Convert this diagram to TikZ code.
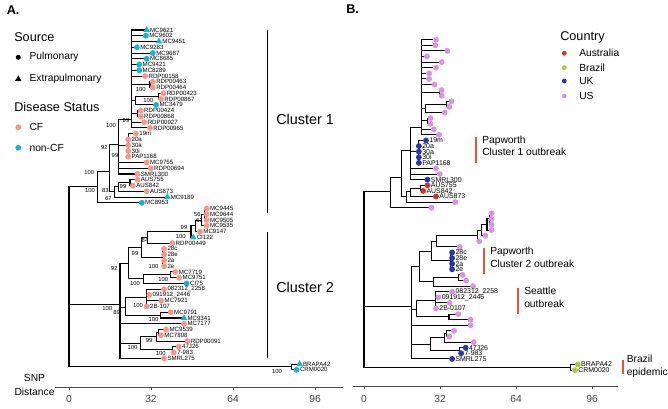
\documentclass[tikz,border=0pt]{standalone}
\usepackage{fontspec}
\setmainfont{Liberation Sans}
\usetikzlibrary{shapes.geometric,positioning}

\definecolor{cfpink}{HTML}{F8968A}
\definecolor{noncf}{HTML}{17B4CF}
\definecolor{ausred}{HTML}{D32F2F}
\definecolor{brzgreen}{HTML}{A8C93A}
\definecolor{ukblue}{HTML}{2C35A5}
\definecolor{usorchid}{HTML}{DC92E2}
\definecolor{outred}{HTML}{E5533F}

\tikzset{
  branch/.style={line width=0.8pt},
  tipdot/.style={circle, inner sep=0pt, minimum size=4.4pt},
  tiptri/.style={regular polygon, regular polygon sides=3, inner sep=0pt, minimum size=5.8pt},
  tiplab/.style={font=\fontsize{4.6}{5}\selectfont, inner sep=0pt, anchor=west, xshift=2.4pt},
  tiplabB/.style={font=\fontsize{5.2}{5.5}\selectfont, inner sep=0pt, anchor=west, xshift=2.4pt},
  bootlab/.style={font=\fontsize{4.4}{5}\selectfont, inner sep=0pt},
  paneltag/.style={font=\fontsize{9.5}{11}\selectfont\bfseries, inner sep=0pt, anchor=west},
  legtitle/.style={font=\fontsize{9.5}{11}\selectfont, inner sep=0pt, anchor=west},
  legitem/.style={font=\fontsize{7.7}{9}\selectfont, inner sep=0pt, anchor=west},
  clustlab/.style={font=\fontsize{10.8}{12}\selectfont, inner sep=0pt, anchor=west},
  outlab/.style={font=\fontsize{7.7}{9.4}\selectfont, inner sep=0pt, anchor=north west, align=left},
  ticklab/.style={font=\fontsize{7.7}{9}\selectfont, inner sep=0pt, text=black!75},
  axisline/.style={line width=0.6pt, draw=black!70},
  outbar/.style={line width=1.4pt, draw=outred}
}

% tree shared by both panels: x = SNP distance, y = tip row
\newcommand{\treecoords}{%
  \foreach \n/\s in {1/30.3,2/30.0,3/35.1,4/26.5,5/32.7,6/30.3,7/27.4,8/27.4,9/29.7,10/32.7,
    11/32.7,12/36.8,13/35.9,14/34.0,15/28.0,16/28.0,17/29.4,18/31.6,19/26.1,20/23.1,
    21/23.1,22/23.1,23/23.1,24/30.3,25/31.9,26/26.7,27/26.7,28/24.9,29/30.3,30/38.4,
    31/28.4,32/53.7,33/53.7,34/53.7,35/53.7,36/51.1,37/48.5,38/40.3,39/37.1,40/37.1,
    41/37.1,42/37.1,43/41.5,44/43.0,45/45.9,46/37.1,47/31.3,48/36.0,49/30.3,50/39.7,
    51/44.9,52/44.9,53/37.9,54/35.9,55/46.2,56/42.8,57/40.9,58/37.1,59/90.0,60/88.8}
    {\coordinate (l\n) at (\s,\n);}
  \foreach \nd/\s/\i in {R/0/28.1, c1/11.0/28.1, c1a/15.9/25.6, c1b/19.4/20.8, tp/24.4/16.6,
    n10/31.6/10.5, n12/25.8/13.25, n12a/34.9/12.5, n15/26.7/15.5, p1/23.1/21.0,
    nb/17.7/29.0, n83/19.4/28.1, naus/23.8/27.5,
    c2/19.9/48.6, n92/23.2/41.5, n99c/28.4/38.8, n84/30.5/37.0, n99d/47.6/36.0,
    n99e/49.5/35.0, n61/51.8/34.0, n56/52.8/33.0, n100e/36.5/40.5, n100c/29.2/44.2,
    n100d/39.7/43.5, n89/22.0/49.2, n100f/30.3/47.5, n100g/35.8/50.5, n100i/28.0/55.4,
    n99f/34.0/54.25, na/34.8/53.5, n100j/40.4/56.5, br/87.0/59.5}
    {\coordinate (\nd) at (\s,\i);}
}
\newcommand{\treeedges}{%
  \foreach \pa/\ch in {R/c1, R/c2, R/br, c1/c1a, c1/l31, c1a/c1b, c1a/nb,
    c1b/tp, c1b/p1, c1b/l24, c1b/l25, c1b/l26,
    tp/l1, tp/l2, tp/l3, tp/l4, tp/l5, tp/l6, tp/l7, tp/l8, tp/l9, tp/n10, tp/n12,
    tp/n15, tp/l17, tp/l18, n10/l10, n10/l11, n12/n12a, n12/l14, n12a/l12, n12a/l13,
    n15/l15, n15/l16, p1/l19, p1/l20, p1/l21, p1/l22, p1/l23,
    nb/n83, nb/l30, n83/naus, n83/l29, naus/l27, naus/l28,
    c2/n92, c2/n89, c2/l52, c2/n100i, c2/l58,
    n92/n99c, n92/n100c, n99c/n84, n99c/n100e, n84/n99d, n84/l38, n99d/n99e, n99d/l37,
    n99e/n61, n99e/l36, n61/n56, n61/l35, n56/l32, n56/l33, n56/l34,
    n100e/l39, n100e/l40, n100e/l41, n100e/l42, n100c/n100d, n100c/l45,
    n100d/l43, n100d/l44, n89/n100f, n89/n100g, n100f/l46, n100f/l47, n100f/l48,
    n100f/l49, n100g/l50, n100g/l51, n100i/n99f, n100i/n100j, n99f/na, n99f/l55,
    na/l53, na/l54, n100j/l56, n100j/l57, br/l59, br/l60}
    {\draw[branch] (\pa) |- (\ch);}
}

\begin{document}
\begin{tikzpicture}[x=0.75pt, y=-0.75pt]
\useasboundingbox (0,0) rectangle (668,409);

% ---------------- panel A ----------------
\node[paneltag] (tagA) at (6.5,10.5) {A.};

\node[legtitle] (srcT) at (14,37) {Source};
\node[circle, fill=black, inner sep=0pt, minimum size=3.8pt] (srcP) at (18.3,57.3) {};
\node[legitem] (srcPl) at (29.3,57.3) {Pulmonary};
\node[regular polygon, regular polygon sides=3, fill=black, inner sep=0pt, minimum size=5.4pt] (srcE) at (18.3,79) {};
\node[legitem] (srcEl) at (29.3,79) {Extrapulmonary};
\node[legtitle] (disT) at (14,107.3) {Disease Status};
\node[circle, fill=cfpink, inner sep=0pt, minimum size=4.4pt] (disC) at (18.3,127.3) {};
\node[legitem] (disCl) at (29.3,127.3) {CF};
\node[circle, fill=noncf, inner sep=0pt, minimum size=4.4pt] (disN) at (18.3,147.7) {};
\node[legitem] (disNl) at (29.3,147.7) {non-CF};

\begin{scope}[shift={(69,24.24)}, x=1.921875pt, y=-4.32pt, name prefix=A-]
  \treecoords
  \treeedges
  \foreach \n/\lab/\col in {2/MC9602/noncf, 4/MC9283/noncf, 5/MC9687/noncf, 6/MC8685/noncf,
    7/MC9421/noncf, 8/MC8289/noncf, 9/RDP00158/cfpink, 10/RDP00463/cfpink, 11/RDP00464/cfpink,
    12/RDP00423/cfpink, 13/RDP00867/cfpink, 14/MC3479/noncf, 15/RDP00424/cfpink,
    16/RDP00868/cfpink, 17/RDP00927/cfpink, 18/RDP00965/cfpink, 19/19m/cfpink, 20/20a/cfpink,
    21/30a/cfpink, 22/30i/cfpink, 23/PAP1168/cfpink, 24/MC9755/cfpink, 25/RDP00694/cfpink,
    26/SMRL300/cfpink, 27/AUS755/cfpink, 28/AUS842/cfpink, 29/AUS873/cfpink, 31/MC8953/noncf,
    32/MC9445/cfpink, 33/MC9644/cfpink, 34/MC9505/cfpink, 35/MC9535/cfpink, 36/MC9147/cfpink,
    38/RDP00449/cfpink, 39/28c/cfpink, 40/28e/cfpink, 41/2a/cfpink, 42/2e/cfpink,
    43/MC7719/cfpink, 44/MC9751/cfpink, 45/CI75/noncf, 46/082312\_2258/cfpink,
    47/091912\_2446/cfpink, 48/MC7921/cfpink, 49/2B-107/cfpink, 50/MC9791/cfpink,
    52/MC7177/cfpink, 53/MC9539/cfpink, 54/MC7808/cfpink, 55/RDP00091/cfpink,
    56/47J26/cfpink, 57/7-983/cfpink, 58/SMRL275/cfpink, 60/CRM0020/noncf}
    {\node[tipdot, fill=\col] (d\n) at (l\n) {};
     \node[tiplab] (t\n) at (l\n) {\lab};}
  \foreach \n/\lab in {1/MC9621, 3/MC9451, 30/MC9189, 37/CI122, 51/MC9341, 59/BRAPA42}
    {\node[tiptri, fill=noncf] (d\n) at (l\n) {};
     \node[tiplab] (t\n) at (l\n) {\lab};}
\end{scope}

% bootstrap support
\foreach \bx/\by/\bv [count=\k] in {140.7/89/100, 148.3/100.7/100, 126/120/99, 111/125/100,
    104.3/147/92, 115/155/99, 89.3/172/100, 90/190.7/100, 105.5/190.7/83, 108.3/198/67,
    123/186.7/99, 197.3/214/56, 199.3/220.7/61, 184/227.3/99, 180.7/236/100, 145/240.7/84,
    135/253.3/99, 153.5/266/100, 114.3/268.3/92, 163.3/279/100, 135/283.3/100,
    138/305.8/100, 107.3/308/100, 116.7/312.3/89, 153.5/319.2/100, 149.2/340.5/99,
    132.5/347/100, 160.7/353.8/100, 277/371/100}
  {\node[bootlab] (bs\k) at (\bx,\by) {\bv};}

\draw[line width=0.8pt] (267.3,30.5) coordinate (k1a) -- (267.3,213.5) coordinate (k1b);
\draw[line width=0.8pt] (267.3,232.5) coordinate (k2a) -- (267.3,358.5) coordinate (k2b);
\node[clustlab] (cl1) at (276,119) {Cluster 1};
\node[clustlab] (cl2) at (276,287) {Cluster 2};

\draw[axisline] (55,387) coordinate (axA0) -- (343,387) coordinate (axA1);
\foreach \t in {0,32,64,96}
  {\draw[axisline] (69+2.5625*\t,387) -- ++(0,3.5);
   \node[ticklab] (tA\t) at (69+2.5625*\t,398.5) {\t};}
\node[legitem, anchor=center] (snp) at (34.5,378) {SNP};
\node[legitem, anchor=center] (dist) at (34.5,391.5) {Distance};

% ---------------- panel B ----------------
\node[paneltag] (tagB) at (346,9.5) {B.};

\node[legtitle] (ctyT) at (560,37.3) {Country};
\foreach \cy/\cc/\cn [count=\k] in {53.3/ausred/Australia, 67.7/brzgreen/Brazil,
    81/ukblue/UK, 96/usorchid/US}
  {\node[circle, fill=\cc, inner sep=0pt, minimum size=3.6pt] (cd\k) at (564.3,\cy) {};
   \node[legitem] (ct\k) at (579,\cy) {\cn};}

\begin{scope}[shift={(364,34.1)}, x=1.78125pt, y=-4.2pt, name prefix=B-]
  \treecoords
  \treeedges
  \foreach \n/\col in {1/usorchid,2/usorchid,3/usorchid,4/usorchid,5/usorchid,6/usorchid,
    7/usorchid,8/usorchid,9/usorchid,10/usorchid,11/usorchid,12/usorchid,13/usorchid,
    14/usorchid,15/usorchid,16/usorchid,17/usorchid,18/usorchid,19/ukblue,20/ukblue,
    21/ukblue,22/ukblue,23/ukblue,24/usorchid,25/usorchid,26/ukblue,27/ausred,28/ausred,
    29/ausred,30/usorchid,31/usorchid,32/usorchid,33/usorchid,34/usorchid,35/usorchid,
    36/usorchid,37/usorchid,38/usorchid,39/ukblue,40/ukblue,41/ukblue,42/ukblue,
    43/usorchid,44/usorchid,45/usorchid,46/usorchid,47/usorchid,48/usorchid,49/usorchid,
    50/usorchid,51/usorchid,52/usorchid,53/usorchid,54/usorchid,55/usorchid,56/ukblue,
    57/ukblue,58/ukblue,59/brzgreen,60/brzgreen}
    {\node[tipdot, fill=\col] (d\n) at (l\n) {};}
  \foreach \n/\lab in {19/19m, 20/20a, 21/30a, 22/30i, 23/PAP1168, 26/SMRL300, 27/AUS755,
    28/AUS842, 29/AUS873, 39/28c, 40/28e, 41/2a, 42/2e, 46/082312\_2258, 47/091912\_2446,
    49/2B-0107, 56/47J26, 57/7-983, 58/SMRL275, 59/BRAPA42, 60/CRM0020}
    {\node[tiplabB] (t\n) at (l\n) {\lab};}
\end{scope}

\draw[outbar] (475.7,136.7) coordinate (ob1a) -- (475.7,162.7) coordinate (ob1b);
\node[outlab] (ol1) at (482,135.5) {Papworth\\Cluster 1 outbreak};
\draw[outbar] (484,248.3) coordinate (ob2a) -- (484,274) coordinate (ob2b);
\node[outlab] (ol2) at (490,247) {Papworth\\Cluster 2 outbreak};
\draw[outbar] (517.7,288.3) coordinate (ob3a) -- (517.7,314) coordinate (ob3b);
\node[outlab] (ol3) at (524,287) {Seattle\\outbreak};
\draw[outbar] (622.7,360) coordinate (ob4a) -- (622.7,374) coordinate (ob4b);
\node[outlab] (ol4) at (626.5,355) {Brazil\\epidemic};

\draw[axisline] (352.7,386) coordinate (axB0) -- (618.3,386) coordinate (axB1);
\foreach \t in {0,32,64,96}
  {\draw[axisline] (364+2.375*\t,386) -- ++(0,3.5);
   \node[ticklab] (tB\t) at (364+2.375*\t,398.5) {\t};}
\end{tikzpicture}
\end{document}
